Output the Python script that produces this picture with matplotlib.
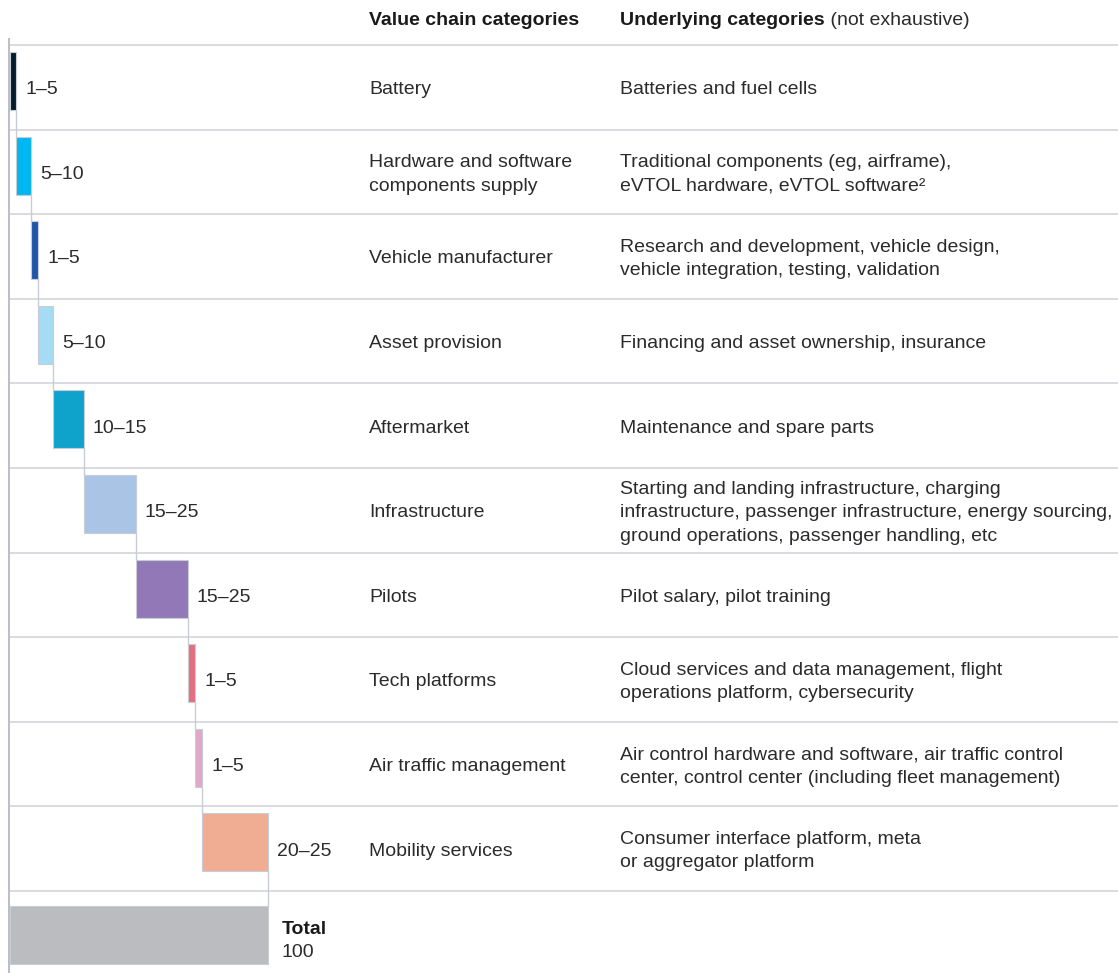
import matplotlib
matplotlib.use('Agg')
import matplotlib.pyplot as plt
import matplotlib.transforms as mtransforms
import numpy as np

plt.rcParams.update({
    'font.family': ['Liberation Sans', 'DejaVu Sans'],
    'font.size': 14,
})

# --- data ---
categories = [
    'Battery',
    'Hardware and software\ncomponents supply',
    'Vehicle manufacturer',
    'Asset provision',
    'Aftermarket',
    'Infrastructure',
    'Pilots',
    'Tech platforms',
    'Air traffic management',
    'Mobility services',
]
underlying = [
    'Batteries and fuel cells',
    'Traditional components (eg, airframe),\neVTOL hardware, eVTOL software\u00b2',
    'Research and development, vehicle design,\nvehicle integration, testing, validation',
    'Financing and asset ownership, insurance',
    'Maintenance and spare parts',
    'Starting and landing infrastructure, charging\ninfrastructure, passenger infrastructure, energy sourcing,\nground operations, passenger handling, etc',
    'Pilot salary, pilot training',
    'Cloud services and data management, flight\noperations platform, cybersecurity',
    'Air control hardware and software, air traffic control\ncenter, control center (including fleet management)',
    'Consumer interface platform, meta\nor aggregator platform',
]
range_labels = ['1\u20135', '5\u201310', '1\u20135', '5\u201310', '10\u201315',
                '15\u201325', '15\u201325', '1\u20135', '1\u20135', '20\u201325']
shares = [2.5, 5.6, 2.9, 5.8, 11.8, 20.2, 20.0, 2.9, 2.9, 25.4]
total_value = 100
colors = ['#051C2C', '#00B7F1', '#1F57A8', '#A6DCF3', '#0FA3CC',
          '#AAC4E6', '#9278B6', '#E3707F', '#E2A8C9', '#F0AD93']
total_color = '#BBBCC0'

edge_col = '#C8CCD5'
grid_col = '#D5D8DE'
text_col = '#2B2B2B'

# --- layout (pixel geometry of the original) ---
W, H = 1118, 973
px_per_unit = 2.58          # 100 units -> 258 px
x0_px = 10
row_px = 84.6
top_px = 45
dy = 2.5 / row_px           # small downward nudge for text

fig = plt.figure(figsize=(W / 100, H / 100), dpi=100)
ax = fig.add_axes([0, 0, 1, 1])
ax.set_xlim(-x0_px / px_per_unit, (W - x0_px) / px_per_unit)
ax.set_ylim((H - top_px) / row_px, -top_px / row_px)
ax.axis('off')

n = len(shares)
starts = np.concatenate([[0], np.cumsum(shares)[:-1]])
ends = np.cumsum(shares)
bar_top, bar_bot = 0.083, 0.768
tot_top, tot_bot = 0.177, 0.863

# separators and left axis
ax.hlines(np.arange(n + 1), 0, ax.get_xlim()[1], color=grid_col, lw=1.3, zorder=1)
ax.vlines(-0.4, -7 / row_px, ax.get_ylim()[0], color='#B5B9C2', lw=1.3, zorder=1)

# bars
ax.barh(np.arange(n) + (bar_top + bar_bot) / 2, shares, height=bar_bot - bar_top,
        left=starts, color=colors, edgecolor=edge_col, linewidth=0.8, zorder=3)
ax.barh(n + (tot_top + tot_bot) / 2, total_value, height=tot_bot - tot_top,
        left=0, color=total_color, edgecolor=edge_col, linewidth=0.8, zorder=3)

# connectors
for i in range(n):
    y_next = i + 1 + (tot_top if i == n - 1 else bar_top)
    ax.vlines(ends[i], i + bar_bot, y_next, color=edge_col, lw=1.0, zorder=2)

# value labels
for i, (e, lab) in enumerate(zip(ends, range_labels)):
    ax.annotate(lab, xy=(e, i + 0.5 + dy), xytext=(6.5, 0), textcoords='offset points',
                ha='left', va='center', color=text_col, fontsize=14)
ax.annotate('Total', xy=(total_value, n + 0.426 + dy), xytext=(10, 0), textcoords='offset points',
            ha='left', va='center', color='#1A1A1A', fontsize=14, fontweight='bold')
ax.annotate(str(total_value), xy=(total_value, n + 0.697 + dy), xytext=(10, 0),
            textcoords='offset points', ha='left', va='center', color=text_col, fontsize=14)

# text columns
tr = mtransforms.blended_transform_factory(fig.transFigure, ax.transData)
col2, col3 = 369 / W, 620 / W
for i in range(n):
    ax.text(col2, i + 0.5 + dy, categories[i], transform=tr, ha='left', va='center',
            color=text_col, fontsize=14, linespacing=1.5)
    ax.text(col3, i + 0.5 + dy, underlying[i], transform=tr, ha='left', va='center',
            color=text_col, fontsize=14, linespacing=1.5)

# headers
y_head = (18 - top_px) / row_px + dy
ax.text(col2, y_head, 'Value chain categories', transform=tr, ha='left', va='center',
        color='#1A1A1A', fontsize=14, fontweight='bold')
hb = ax.text(col3, y_head, 'Underlying categories', transform=tr, ha='left', va='center',
             color='#1A1A1A', fontsize=14, fontweight='bold')
ax.annotate(' (not exhaustive)', xy=(1, 0), xycoords=hb, ha='left', va='bottom',
            color=text_col, fontsize=14)

fig.savefig('out.png', dpi=100)
plt.close(fig)
